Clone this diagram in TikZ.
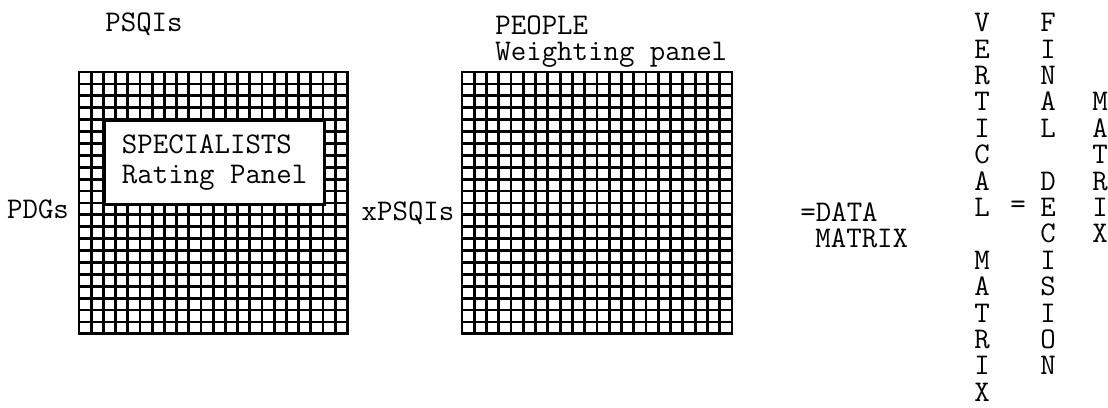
\documentclass[tikz,border=0pt]{standalone}
\usetikzlibrary{positioning}
\tikzset{
  labeltext/.style={font=\fontsize{15}{13.2}\selectfont\ttfamily, inner sep=0pt},
  gridline/.style={line width=1.4pt, line cap=rect}
}
\begin{document}
\begin{tikzpicture}[x=0.5pt, y=-0.5pt]
  \useasboundingbox (0,0) rectangle (1108,407);
  % left grid (PDGs x PSQIs)
  \foreach \i in {0,...,22} {
    \draw[gridline] ({79+12.2*\i},72) -- ({79+12.2*\i},333.8);
    \draw[gridline] (79,{72+11.9*\i}) -- (347.4,{72+11.9*\i});
  }
  \node[draw, gridline, fill=white, anchor=north west, align=left,
        minimum width=109.8pt, minimum height=41.65pt,
        font=\fontsize{15}{15}\selectfont\ttfamily] (specialists) at (103.4,119.6)
        {SPECIALISTS\\Rating Panel};
  % right grid (PSQIs x people)
  \foreach \i in {0,...,22} {
    \draw[gridline] ({462+12.27*\i},72) -- ({462+12.27*\i},333.8);
    \draw[gridline] (462,{72+11.9*\i}) -- (732,{72+11.9*\i});
  }
  % labels
  \node[labeltext] (psqi) at (144,24) {PSQIs};
  \node[labeltext] (pdg) at (38,209) {PDGs};
  \node[labeltext] (xpsqi) at (408,213) {xPSQIs};
  \node[labeltext, anchor=north west, align=left] (people) at (495,15)
        {PEOPLE\\Weighting panel};
  \node[labeltext, anchor=north west, align=left] (data) at (800,202)
        {=DATA\\\hspace*{0.5em}MATRIX};
  % vertical words
  \node[labeltext, anchor=north, align=center] (vertical) at (982,13)
        {V\\E\\R\\T\\I\\C\\A\\L\\[13.2pt]M\\A\\T\\R\\I\\X};
  \node[labeltext] (equals) at (1018,207) {=};
  \node[labeltext, anchor=north, align=center] (final) at (1048,13)
        {F\\I\\N\\A\\L\\[13.2pt]D\\E\\C\\I\\S\\I\\O\\N};
  \node[labeltext, anchor=north, align=center] (matrix) at (1100,92.2)
        {M\\A\\T\\R\\I\\X};
\end{tikzpicture}
\end{document}
